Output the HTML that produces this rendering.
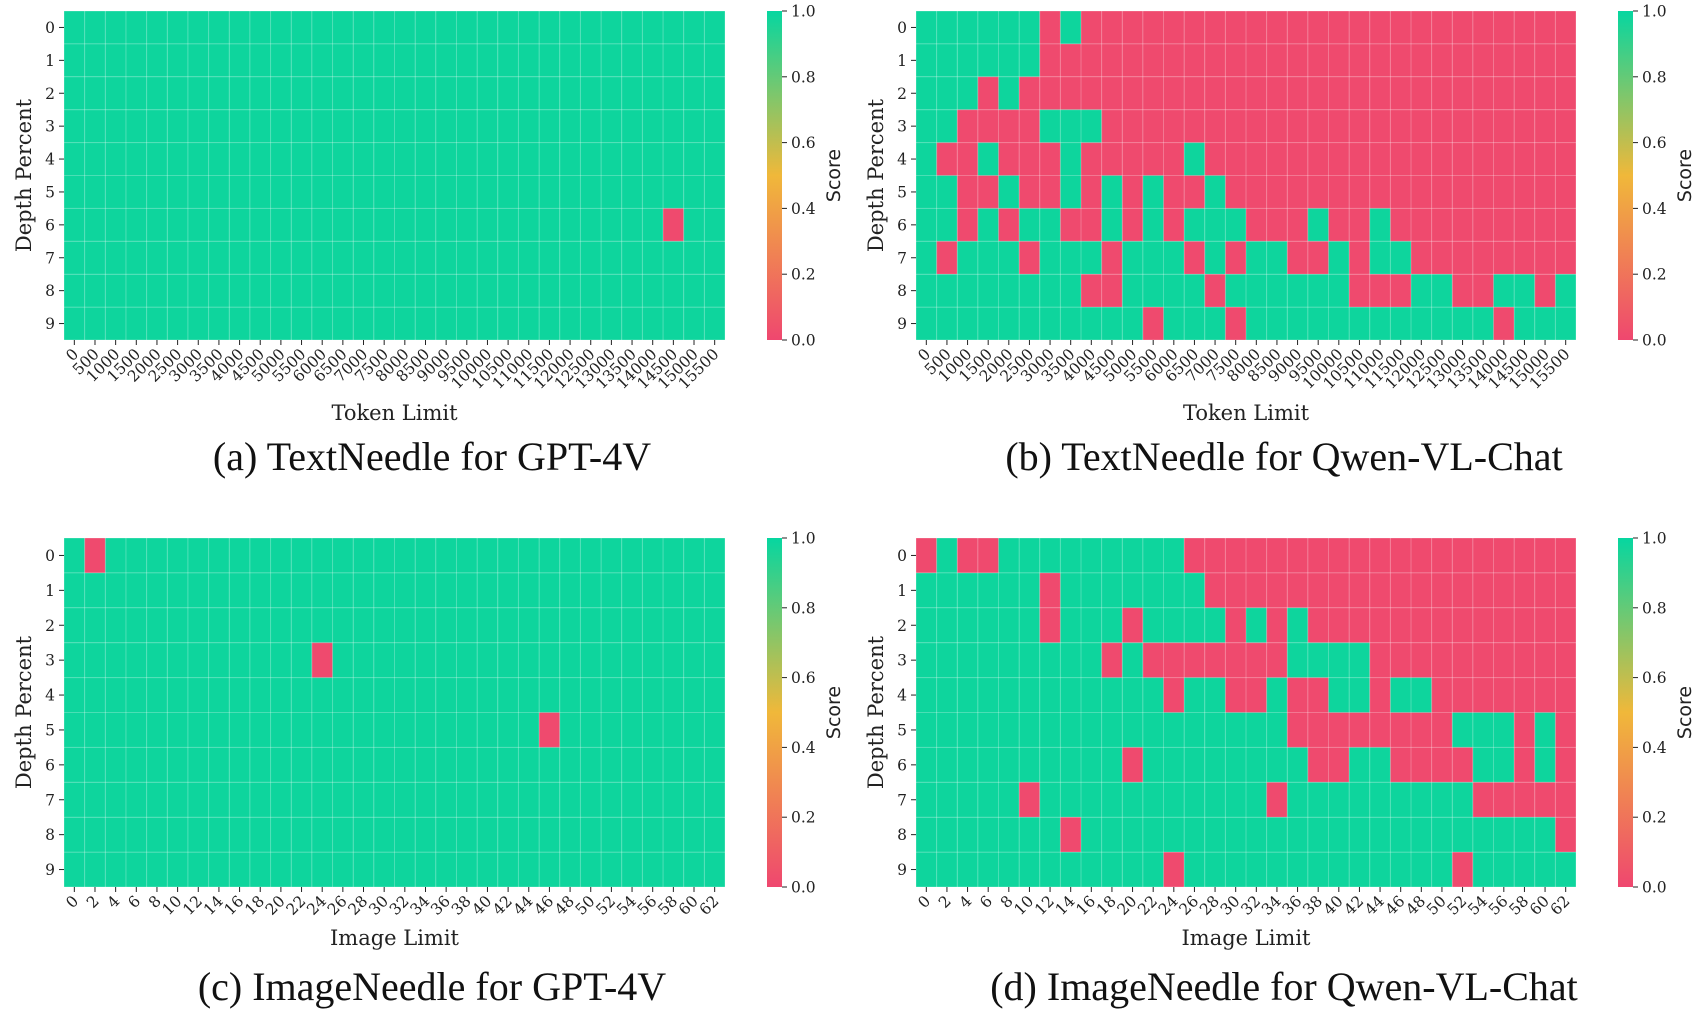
<!DOCTYPE html>
<html><head><meta charset="utf-8">
<style>
html,body{margin:0;padding:0;background:#fff;}
svg{display:block;}
.tk{font-family:"DejaVu Serif","Liberation Serif",serif;font-size:15.5px;fill:#222;}
.ax{font-family:"DejaVu Serif","Liberation Serif",serif;font-size:21px;fill:#222;}
.cap{font-family:"Liberation Serif","DejaVu Serif",serif;font-size:40px;fill:#111;}
.sc{font-family:"DejaVu Sans","Liberation Sans",sans-serif;font-size:19px;fill:#222;}
</style></head>
<body>
<svg id="fig" width="1699" height="1009" viewBox="0 0 1699 1009" xmlns="http://www.w3.org/2000/svg">
<defs>
<linearGradient id="cmap" x1="0" y1="1" x2="0" y2="0">
<stop offset="0" stop-color="#ef476f"/>
<stop offset="0.5" stop-color="#f0b83a"/>
<stop offset="1" stop-color="#06d6a0"/>
</linearGradient>
</defs>
</svg>
<script>
const tokenLabels = [0,500,1000,1500,2000,2500,3000,3500,4000,4500,5000,5500,6000,6500,7000,7500,8000,8500,9000,9500,10000,10500,11000,11500,12000,12500,13000,13500,14000,14500,15000,15500];
const imageLabels = [0,2,4,6,8,10,12,14,16,18,20,22,24,26,28,30,32,34,36,38,40,42,44,46,48,50,52,54,56,58,60,62];
const depthLabels = [0,1,2,3,4,5,6,7,8,9];
const cbTicks = [0.0,0.2,0.4,0.6,0.8,1.0];

const gpt4vTextFails = [[6,29]];
const gpt4vImageFails = [[0,1],[3,12],[5,23]];

const qwenText = [
[1,1,1,1,1,1,0,1,0,0,0,0,0,0,0,0,0,0,0,0,0,0,0,0,0,0,0,0,0,0,0,0],
[1,1,1,1,1,1,0,0,0,0,0,0,0,0,0,0,0,0,0,0,0,0,0,0,0,0,0,0,0,0,0,0],
[1,1,1,0,1,0,0,0,0,0,0,0,0,0,0,0,0,0,0,0,0,0,0,0,0,0,0,0,0,0,0,0],
[1,1,0,0,0,0,1,1,1,0,0,0,0,0,0,0,0,0,0,0,0,0,0,0,0,0,0,0,0,0,0,0],
[1,0,0,1,0,0,0,1,0,0,0,0,0,1,0,0,0,0,0,0,0,0,0,0,0,0,0,0,0,0,0,0],
[1,1,0,0,1,0,0,1,0,1,0,1,0,0,1,0,0,0,0,0,0,0,0,0,0,0,0,0,0,0,0,0],
[1,1,0,1,0,1,1,0,0,1,0,1,0,1,1,1,0,0,0,1,0,0,1,0,0,0,0,0,0,0,0,0],
[1,0,1,1,1,0,1,1,1,0,1,1,1,0,1,0,1,1,0,0,1,0,1,1,0,0,0,0,0,0,0,0],
[1,1,1,1,1,1,1,1,0,0,1,1,1,1,0,1,1,1,1,1,1,0,0,0,1,1,0,0,1,1,0,1],
[1,1,1,1,1,1,1,1,1,1,1,0,1,1,1,0,1,1,1,1,1,1,1,1,1,1,1,1,0,1,1,1]
];
const qwenImage = [
[0,1,0,0,1,1,1,1,1,1,1,1,1,0,0,0,0,0,0,0,0,0,0,0,0,0,0,0,0,0,0,0],
[1,1,1,1,1,1,0,1,1,1,1,1,1,1,0,0,0,0,0,0,0,0,0,0,0,0,0,0,0,0,0,0],
[1,1,1,1,1,1,0,1,1,1,0,1,1,1,1,0,1,0,1,0,0,0,0,0,0,0,0,0,0,0,0,0],
[1,1,1,1,1,1,1,1,1,0,1,0,0,0,0,0,0,0,1,1,1,1,0,0,0,0,0,0,0,0,0,0],
[1,1,1,1,1,1,1,1,1,1,1,1,0,1,1,0,0,1,0,0,1,1,0,1,1,0,0,0,0,0,0,0],
[1,1,1,1,1,1,1,1,1,1,1,1,1,1,1,1,1,1,0,0,0,0,0,0,0,0,1,1,1,0,1,0],
[1,1,1,1,1,1,1,1,1,1,0,1,1,1,1,1,1,1,1,0,0,1,1,0,0,0,0,1,1,0,1,0],
[1,1,1,1,1,0,1,1,1,1,1,1,1,1,1,1,1,0,1,1,1,1,1,1,1,1,1,0,0,0,0,0],
[1,1,1,1,1,1,1,0,1,1,1,1,1,1,1,1,1,1,1,1,1,1,1,1,1,1,1,1,1,1,1,0],
[1,1,1,1,1,1,1,1,1,1,1,1,0,1,1,1,1,1,1,1,1,1,1,1,1,1,0,1,1,1,1,1]
];

function fullWithFails(fails){
  const m = depthLabels.map(()=>tokenLabels.map(()=>1));
  fails.forEach(f=>{ m[f[0]][f[1]] = 0; });
  return m;
}

const NS="http://www.w3.org/2000/svg";
const svg=document.getElementById('fig');
function mk(tag,attrs,parent){const e=document.createElementNS(NS,tag);for(const k in attrs)e.setAttribute(k,attrs[k]);(parent||svg).appendChild(e);return e;}
function color(v){return v>=0.5?'#0ed59d':'#ef4a6e';}

function panel(cfg){
  const g=mk('g',{});
  
  
  const nR=cfg.data.length,nC=cfg.data[0].length;
  const cw=(cfg.x1-cfg.x0)/nC, ch=(cfg.y1-cfg.y0)/nR;
  const xs=c=>cfg.x0+c*cw, ys=r=>cfg.y0+r*ch;
  cfg.data.forEach((row,r)=>row.forEach((v,c)=>{
    const cell=mk('rect',{x:xs(c),y:ys(r),width:cw,height:ch,fill:color(v)},g);
    
    
  }));
  for(let c=0;c<=nC;c++) mk('line',{x1:xs(c),x2:xs(c),y1:cfg.y0,y2:cfg.y1,stroke:'#fff','stroke-opacity':0.25,'stroke-width':1},g);
  for(let r=0;r<=nR;r++) mk('line',{x1:cfg.x0,x2:cfg.x1,y1:ys(r),y2:ys(r),stroke:'#fff','stroke-opacity':0.25,'stroke-width':1},g);
  depthLabels.forEach((l,r)=>{
    const y=ys(r)+ch/2;
    mk('line',{x1:cfg.x0-5,x2:cfg.x0,y1:y,y2:y,stroke:'#222','stroke-width':1},g);
    const t=mk('text',{x:cfg.x0-9,y:y+5.5,'text-anchor':'end',class:'tk'},g);
    t.textContent=l;
    
    
  });
  cfg.xlabels.forEach((l,c)=>{
    const x=xs(c)+cw/2;
    mk('line',{x1:x,x2:x,y1:cfg.y1,y2:cfg.y1+5,stroke:'#222','stroke-width':1},g);
    const t=mk('text',{x:x+5,y:cfg.y1+15,'text-anchor':'end',class:'tk',transform:`rotate(-45 ${x+5} ${cfg.y1+15})`},g);
    t.textContent=l;
    
    
  });
  const cx=(cfg.x0+cfg.x1)/2, cy=(cfg.y0+cfg.y1)/2;
  const yl=mk('text',{x:cfg.x0-33,y:cy,'text-anchor':'middle',class:'ax',transform:`rotate(-90 ${cfg.x0-33} ${cy})`},g);
  yl.textContent='Depth Percent';
  
  
  const xl=mk('text',{x:cx,y:cfg.y1+cfg.xtoff,'text-anchor':'middle',class:'ax'},g);
  xl.textContent=cfg.xtitle;
  
  
  const cap=mk('text',{x:cfg.capx,y:cfg.capy,'text-anchor':'middle',class:'cap'},g);
  cap.textContent=cfg.caption;
  
  
  const bx=cfg.x1+42, bw=15;
  const cb=mk('rect',{x:bx,y:cfg.y0,width:bw,height:cfg.y1-cfg.y0,fill:'url(#cmap)'},g);
  
  
  cbTicks.forEach(v=>{
    const y=cfg.y1-v*(cfg.y1-cfg.y0);
    mk('line',{x1:bx+bw,x2:bx+bw+5,y1:y,y2:y,stroke:'#222','stroke-width':1},g);
    const t=mk('text',{x:bx+bw+9,y:y+5.5,class:'tk'},g);
    t.textContent=v.toFixed(1);
    
    
  });
  const sx=bx+bw+58;
  const s=mk('text',{x:sx,y:cy,'text-anchor':'middle',class:'sc',transform:`rotate(-90 ${sx} ${cy})`},g);
  s.textContent='Score';
  
  
}

panel({name:'panel-a-textneedle-gpt4v',data:fullWithFails(gpt4vTextFails),xlabels:tokenLabels,x0:64,x1:725,y0:11,y1:340,xtitle:'Token Limit',xtoff:80,caption:'(a) TextNeedle for GPT-4V',capx:432,capy:470});
panel({name:'panel-b-textneedle-qwen',data:qwenText,xlabels:tokenLabels,x0:916,x1:1576,y0:11,y1:340,xtitle:'Token Limit',xtoff:80,caption:'(b) TextNeedle for Qwen-VL-Chat',capx:1284,capy:470});
panel({name:'panel-c-imageneedle-gpt4v',data:fullWithFails(gpt4vImageFails),xlabels:imageLabels,x0:64,x1:725,y0:538,y1:887,xtitle:'Image Limit',xtoff:58,caption:'(c) ImageNeedle for GPT-4V',capx:432,capy:1000});
panel({name:'panel-d-imageneedle-qwen',data:qwenImage,xlabels:imageLabels,x0:916,x1:1576,y0:538,y1:887,xtitle:'Image Limit',xtoff:58,caption:'(d) ImageNeedle for Qwen-VL-Chat',capx:1284,capy:1000});
</script>
</body></html>
